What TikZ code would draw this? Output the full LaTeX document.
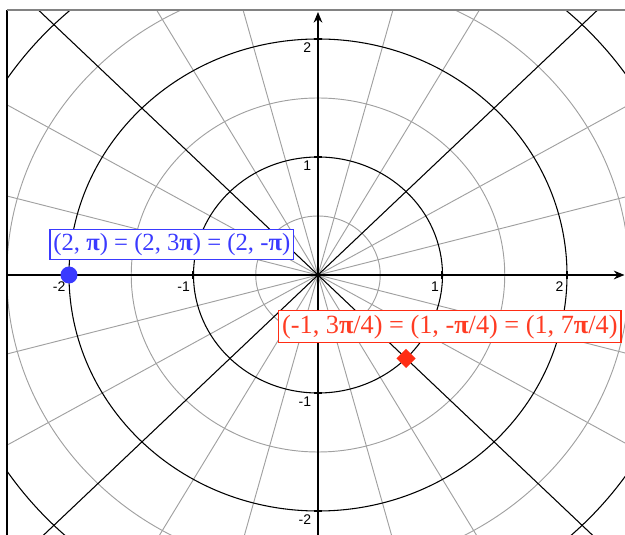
\documentclass[tikz,border=0pt]{standalone}
\usepackage{fontspec}
\setmainfont{Liberation Serif}
\newfontfamily\ticksans{Liberation Sans}
\usetikzlibrary{arrows.meta,shapes.geometric}
\definecolor{gridgray}{RGB}{160,160,160}
\definecolor{framegray}{RGB}{130,130,130}
\definecolor{ptblue}{RGB}{58,58,255}
\definecolor{ptred}{RGB}{255,45,20}
\definecolor{labred}{RGB}{255,60,35}
\tikzset{
  gridthin/.style={draw=gridgray, line width=0.7pt},
  gridthick/.style={draw=black, line width=0.8pt},
  axisline/.style={draw=black, line width=1.5pt, -{Stealth[length=8pt,width=6.5pt]}},
  tickmark/.style={draw=black, line width=1.5pt},
  ticklab/.style={font=\ticksans\fontsize{10.5pt}{11pt}\selectfont, inner sep=0pt, anchor=north east},
  ptlabel/.style={fill=white, line width=0.9pt, inner xsep=2.6pt},
}
\begin{document}
\begin{tikzpicture}[x=93.375pt,y=88.5pt]
\useasboundingbox (-2.5542,-2.2034) rectangle (2.4659,2.3305);
\begin{scope}
  \clip (-2.498,-2.2034) rectangle (2.4659,2.246);
  % gray circles
  \foreach \r in {0.5,1.5,2.5,3.5}
    \draw[gridthin] (0,0) ellipse [x radius={\r*93.375pt}, y radius={\r*88.5pt}];
  % gray radial lines
  \foreach \a in {15,30,60,75,105,120,150,165,195,210,240,255,285,300,330,345}
    \draw[gridthin] (0,0) -- ({4*cos(\a)},{4*sin(\a)});
  % black circles
  \foreach \r in {1,2,3}
    \draw[gridthick] (0,0) ellipse [x radius={\r*93.375pt}, y radius={\r*88.5pt}];
  % black radial lines
  \foreach \a in {45,135,225,315}
    \draw[gridthick] (0,0) -- ({4*cos(\a)},{4*sin(\a)});
\end{scope}
% frame lines
\draw[black, line width=0.8pt] (-2.498,-2.2034) -- (-2.498,2.246);
\draw[framegray, line width=1.4pt] (-2.498,2.246) -- (2.4659,2.246);
% axes
\coordinate (xs) at (-2.498,0);
\coordinate (xe) at (2.462,0);
\coordinate (ys) at (0,-2.2034);
\coordinate (ye) at (0,2.229);
\draw[axisline] (xs) -- (xe);
\draw[axisline] (ys) -- (ye);
% ticks and labels
\foreach \t in {-2,-1,1,2} {
  \draw[tickmark] (\t,0) ++(0,-3pt) -- ++(0,6pt);
  \draw[tickmark] (0,\t) ++(-3pt,0) -- ++(6pt,0);
  \node[ticklab] (xl\t) at ([xshift=-2.5pt,yshift=-5pt]\t,0) {\t};
  \node[ticklab] (yl\t) at ([xshift=-5pt,yshift=-2.5pt]0,\t) {\t};
}
% points
\node[circle, fill=ptblue, minimum size=12.75pt, inner sep=0pt] (pA) at (-2,0) {};
\node[diamond, aspect=1, fill=ptred, minimum size=14.5pt, inner sep=0pt] (pB) at ({cos(-45)},{sin(-45)}) {};
% labels
\node[ptlabel, draw=ptblue, text=ptblue, font=\fontsize{18.5pt}{20pt}\selectfont,
      text height=13.4pt, text depth=4pt, inner ysep=2.5pt] (labA) at (-1.174,0.261)
  {(2, \textbf{π}) = (2, 3\textbf{π}) = (2, -\textbf{π})};
\node[ptlabel, draw=ptred, text=labred, font=\fontsize{19.7pt}{21pt}\selectfont,
      text height=14pt, text depth=4.3pt, inner ysep=2.8pt] (labB) at (1.059,-0.438)
  {(-1, 3\textbf{π}/4) = (1, -\textbf{π}/4) = (1, 7\textbf{π}/4)};
\end{tikzpicture}
\end{document}
